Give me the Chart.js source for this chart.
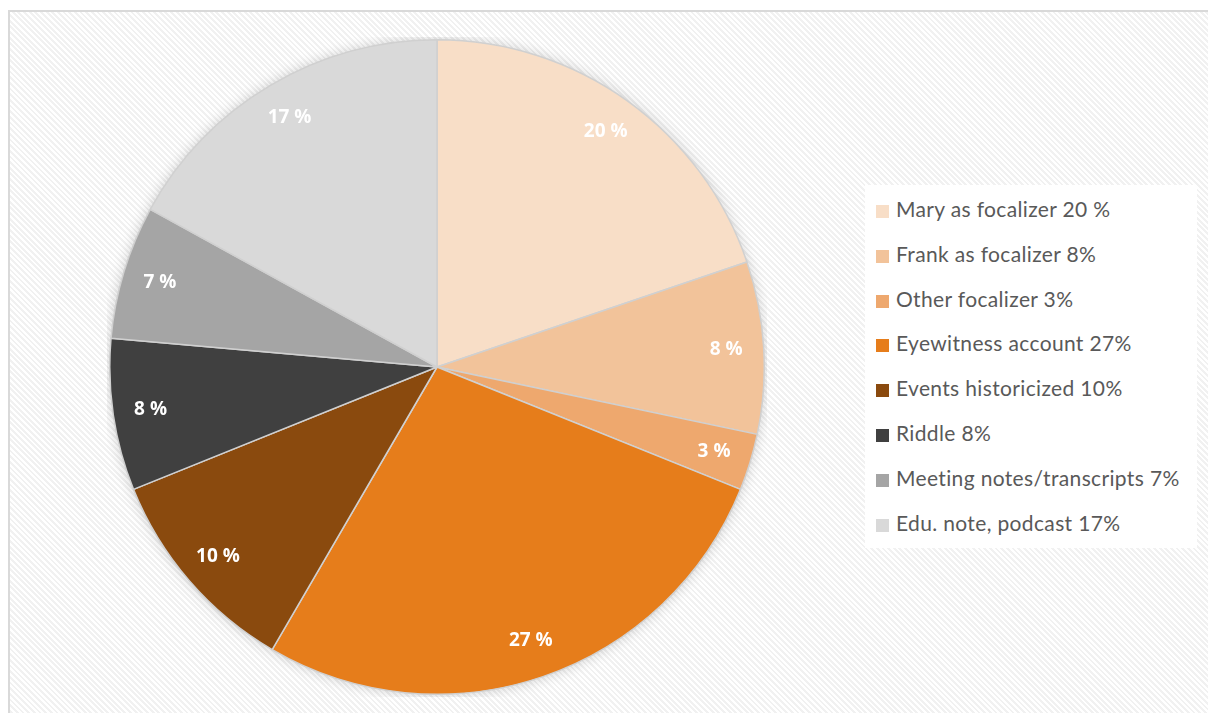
<!DOCTYPE html>
<html>
<head>
<meta charset="utf-8">
<script src="https://cdn.jsdelivr.net/npm/chart.js@4.4.1/dist/chart.umd.min.js"></script>
<style>
    html, body { margin: 0; padding: 0; background: #fff; width: 1208px; height: 713px; overflow: hidden; }
    #frame {
        position: absolute; left: 8px; top: 10px; width: 1220px; height: 720px;
        border: 2px solid #d9d9d9;
        background: repeating-linear-gradient(45deg, #ffffff 0px, #ffffff 2px, #f1f1f1 2px, #f1f1f1 4px);
    }
    #pie { position: absolute; left: 107px; top: 37px; }
    #legend {
        position: absolute; left: 865px; top: 185px; width: 332px; height: 363px;
        background: #fff; font-family: Lato, "Open Sans", sans-serif; font-size: 21px; letter-spacing: 0.35px; color: #595959;
    }
    .item { position: absolute; left: 11px; height: 24px; line-height: 24px; white-space: nowrap; }
    .item span.box { display: inline-block; width: 13px; height: 13px; margin-right: 7px; vertical-align: -1px; }
</style>
</head>
<body>
<div id="frame"></div>
<canvas id="pie" width="660" height="660"></canvas>
<div id="legend"></div>
<script>
const categories = [
    'Mary as focalizer 20 %',
    'Frank as focalizer 8%',
    'Other focalizer 3%',
    'Eyewitness account 27%',
    'Events historicized 10%',
    'Riddle 8%',
    'Meeting notes/transcripts 7%',
    'Edu. note, podcast 17%'
];
const values = [19.8, 8.5, 2.8, 27.3, 10.5, 7.5, 6.6, 17.0];
const sliceLabels = ['20 %', '8 %', '3 %', '27 %', '10 %', '8 %', '7 %', '17 %'];
const colors = ['#f8dec7', '#f2c39a', '#eea86e', '#e67d1b', '#8a4a0e', '#404040', '#a5a5a5', '#d9d9d9'];

// Soft shadow behind the pie
const pieShadow = {
    id: 'pieShadow',
    beforeDatasetsDraw(chart) {
        const arc = chart.getDatasetMeta(0).data[0];
        if (!arc) return;
        const ctx = chart.ctx;
        ctx.save();
        ctx.shadowColor = 'rgba(0,0,0,0.22)';
        ctx.shadowBlur = 14;
        ctx.beginPath();
        ctx.arc(arc.x, arc.y, arc.outerRadius - 1, 0, Math.PI * 2);
        ctx.fillStyle = '#ccc';
        ctx.fill();
        ctx.restore();
    }
};

// White percentage labels inside each slice
const sliceText = {
    id: 'sliceText',
    afterDatasetsDraw(chart) {
        const ctx = chart.ctx;
        ctx.save();
        ctx.font = 'bold 19px "Open Sans", sans-serif';
        ctx.fillStyle = '#ffffff';
        ctx.textAlign = 'center';
        ctx.textBaseline = 'middle';
        chart.getDatasetMeta(0).data.forEach((arc, i) => {
            const p = arc.getProps(['x', 'y', 'startAngle', 'endAngle', 'outerRadius'], true);
            const mid = (p.startAngle + p.endAngle) / 2;
            const r = p.outerRadius * 0.885;
            ctx.fillText(sliceLabels[i], p.x + Math.cos(mid) * r, p.y + Math.sin(mid) * r);
        });
        ctx.restore();
    }
};

new Chart(document.getElementById('pie').getContext('2d'), {
    type: 'pie',
    data: {
        labels: categories,
        datasets: [{
            data: values,
            backgroundColor: colors,
            borderColor: '#d0d0d0',
            borderWidth: 1.5
        }]
    },
    options: {
        responsive: false,
        animation: false,
        layout: { padding: 2 },
        plugins: {
            legend: { display: false },
            tooltip: { enabled: false }
        }
    },
    plugins: [pieShadow, sliceText]
});

// Legend on the right
const legend = document.getElementById('legend');
categories.forEach((name, i) => {
    const row = document.createElement('div');
    row.className = 'item';
    row.style.top = (12 + i * 44.8) + 'px';
    const box = document.createElement('span');
    box.className = 'box';
    box.style.background = colors[i];
    row.appendChild(box);
    row.appendChild(document.createTextNode(name));
    legend.appendChild(row);
});
</script>
</body>
</html>
